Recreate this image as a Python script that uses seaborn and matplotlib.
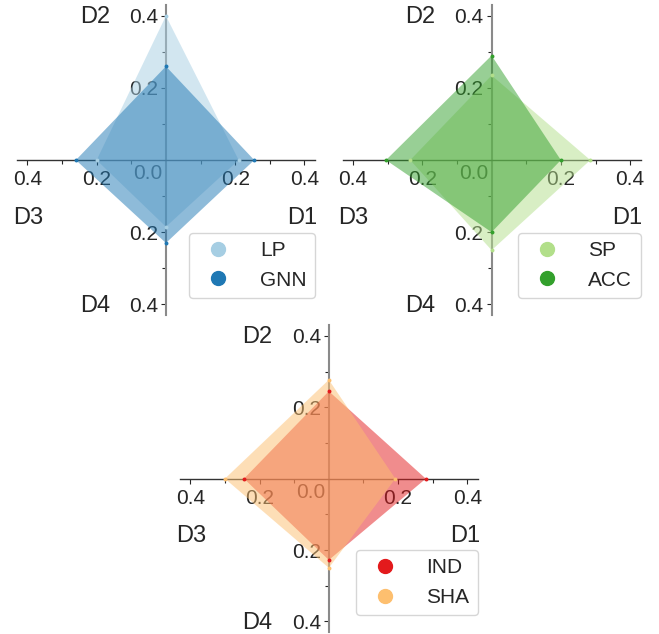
import numpy as np
import pandas as pd
import matplotlib
matplotlib.use('Agg')
import matplotlib.pyplot as plt
from matplotlib.lines import Line2D
import seaborn as sns

# data
dims = ['D1', 'D2', 'D3', 'D4']
lp = [0.21, 0.40, 0.20, 0.185]
gnn = [0.255, 0.26, 0.26, 0.23]
sp = [0.285, 0.235, 0.235, 0.25]
acc = [0.20, 0.29, 0.305, 0.20]
ind = [0.28, 0.245, 0.245, 0.228]
sha = [0.192, 0.277, 0.30, 0.25]

panels = [
    (('LP', lp), ('GNN', gnn)),
    (('SP', sp), ('ACC', acc)),
    (('IND', ind), ('SHA', sha)),
]

sns.set_theme(style='ticks')
plt.rcParams['font.family'] = ['Liberation Sans', 'DejaVu Sans']
pal = sns.color_palette('Paired')
colors = [(pal[0], pal[1]), (pal[2], pal[3]), (pal[5], pal[6])]

angles = np.array([0, 90, 180, 270]) * np.pi / 180
lim = 0.43
txt_c = '#262626'

fig = plt.figure(figsize=(6.59, 6.34), dpi=100)
positions = [
    [0.0258, 0.503, 0.452, 0.489],
    [0.520, 0.503, 0.452, 0.489],
    [0.273, 0.003, 0.452, 0.484],
]

for pos, series, cols in zip(positions, panels, colors):
    ax = fig.add_axes(pos)
    ax.set_xlim(-lim, lim)
    ax.set_ylim(-lim, lim)

    handles = []
    for (name, vals), c in zip(series, cols):
        v = np.array(vals)
        df = pd.DataFrame({'x': v * np.cos(angles), 'y': v * np.sin(angles), 'dim': dims})
        ax.fill(df['x'], df['y'], color=c, alpha=0.5, lw=0, zorder=3)
        sns.scatterplot(data=df, x='x', y='y', color=c, s=8, linewidth=0,
                        ax=ax, zorder=4, legend=False)
        handles.append(Line2D([], [], marker='o', ls='', color=c, markersize=10, label=name))

    # axes crossing at zero
    for s in ['top', 'right']:
        ax.spines[s].set_visible(False)
    ax.spines['left'].set_position(('data', 0))
    ax.spines['bottom'].set_position(('data', 0))
    ax.spines['left'].set_color('#8a8a8a')
    ax.spines['left'].set_linewidth(1.5)
    ax.spines['bottom'].set_color('#333333')
    ax.spines['bottom'].set_linewidth(1.0)

    major = [-0.4, -0.2, 0.2, 0.4]
    minor = [-0.3, -0.1, 0.1, 0.3]
    ax.set_xticks(major)
    ax.set_xticklabels([f'{abs(t):.1f}' for t in major])
    ax.set_yticks(major)
    ax.set_yticklabels([f'{abs(t):.1f}' for t in major])
    ax.set_xticks(minor, minor=True)
    ax.set_yticks(minor, minor=True)
    ax.tick_params(which='major', length=5.3 * 72 / 100, width=0.8, color=txt_c,
                   labelsize=15, labelcolor=txt_c)
    ax.tick_params(which='minor', length=4.3 * 72 / 100, width=0.8, color=txt_c)
    ax.tick_params(axis='y', pad=2)
    ax.set_xlabel('')
    ax.set_ylabel('')

    ax.text(-0.053, -0.038, '0.0', fontsize=15, color=txt_c, ha='center', va='center', zorder=1)

    # dimension labels
    ax.text(0.436, -0.16, dims[0], fontsize=17, color=txt_c, ha='right', va='center')
    ax.text(-0.162, 0.398, dims[1], fontsize=17, color=txt_c, ha='right', va='center')
    ax.text(-0.442, -0.16, dims[2], fontsize=17, color=txt_c, ha='left', va='center')
    ax.text(-0.162, -0.405, dims[3], fontsize=17, color=txt_c, ha='right', va='center')

    ax.legend(handles=handles, loc='lower right', bbox_to_anchor=(1.0, 0.055),
              borderaxespad=0, fontsize=15, handletextpad=1.0, frameon=True,
              edgecolor='#cccccc', fancybox=True, labelcolor=txt_c)

plt.savefig('out.png', dpi=100)
